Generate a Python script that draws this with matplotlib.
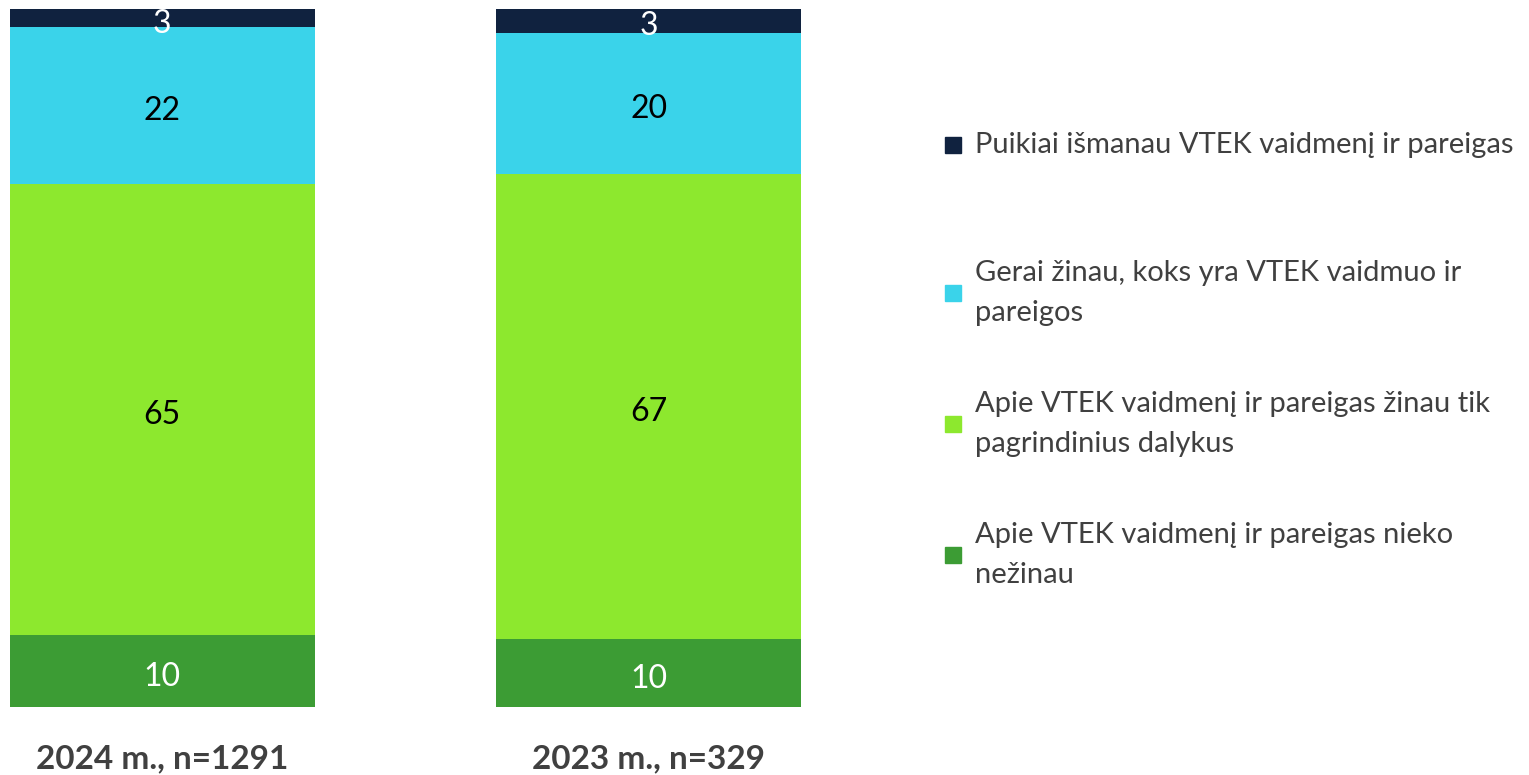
import matplotlib
matplotlib.use("Agg")
import matplotlib.pyplot as plt
from matplotlib.patches import Rectangle

plt.rcParams['font.family'] = ['Lato', 'Open Sans', 'DejaVu Sans']

years = ['2024 m., n=1291', '2023 m., n=329']
nieko = [10.3, 9.7]
pagrind = [64.7, 66.6]
gerai = [22.4, 20.3]
puikiai = [2.6, 3.4]

series = [nieko, pagrind, gerai, puikiai]
labels = ['Apie VTEK vaidmenį ir pareigas nieko\nnežinau',
          'Apie VTEK vaidmenį ir pareigas žinau tik\npagrindinius dalykus',
          'Gerai žinau, koks yra VTEK vaidmuo ir\npareigos',
          'Puikiai išmanau VTEK vaidmenį ir pareigas']
colors = ['#3C9C34', '#8DE82E', '#3AD3EA', '#10223F']
txt_colors = ['white', 'black', 'black', 'white']

W, H = 1529, 775
fig = plt.figure(figsize=(W / 100, H / 100), dpi=100)
ax = fig.add_axes([10 / W, (H - 707) / H, 791 / W, 698 / H])

x = [0, 1]
bw = 0.626
bottom = [0, 0]
for vals, c, tc in zip(series, colors, txt_colors):
    ax.bar(x, vals, bw, bottom=bottom, color=c)
    for i in range(2):
        ax.text(x[i], bottom[i] + vals[i] / 2 - 0.8, '%d' % round(vals[i]), ha='center',
                va='center', fontsize=23, color=tc)
    bottom = [b + v for b, v in zip(bottom, vals)]

ax.set_xlim(-bw / 2, 1 + bw / 2)
ax.set_ylim(0, 100)
ax.axis('off')

for i, yr in enumerate(years):
    ax.text(x[i], -7.4, yr, ha='center', va='center', fontsize=24, fontweight='bold',
            color='#404040')

# legend, drawn by hand (top entry first)
leg_y = [145, 293, 424, 555]
for k, yp in zip([3, 2, 1, 0], leg_y):
    fig.patches.append(Rectangle((945 / W, (H - yp - 8) / H), 16 / W, 16 / H,
                                 transform=fig.transFigure, color=colors[k]))
    fig.text(975 / W, (H - yp) / H, labels[k], ha='left', va='center', fontsize=21,
             color='#404040', linespacing=1.7)

fig.savefig('out.png', dpi=100)
